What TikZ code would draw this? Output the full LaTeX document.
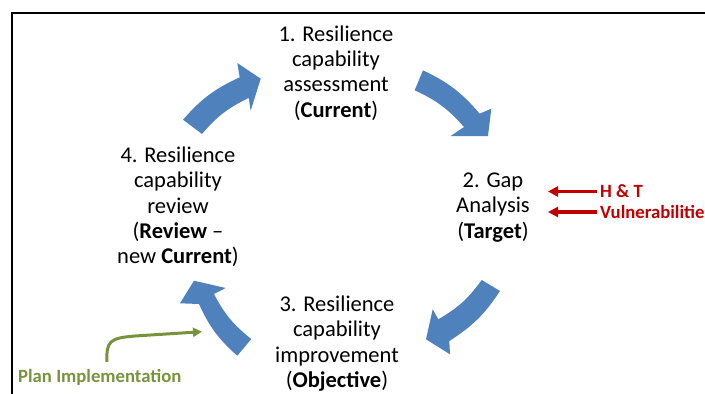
\documentclass[tikz,border=0pt]{standalone}
\usepackage{fontspec}
\setmainfont{Carlito}
\usetikzlibrary{arrows.meta}
\definecolor{cycleblue}{HTML}{4F81BD}
\definecolor{hazardred}{HTML}{C00000}
\definecolor{plangreen}{HTML}{77933C}
\begin{document}
\begin{tikzpicture}[x=1pt,y=-1pt,
  stage/.style={align=center, inner sep=0pt, font=\fontsize{22.5}{25.3}\selectfont},
  cyclearrow/.style={fill=cycleblue, draw=none},
  sidelabel/.style={anchor=west, inner sep=0pt, font=\fontsize{18.7}{22}\selectfont\bfseries},
  hazardarrow/.style={draw=hazardred, line width=3.2pt, -{Triangle[length=10pt,width=10pt]}},
  planarrow/.style={draw=plangreen, line width=3pt, -{Triangle[length=9pt,width=9pt]}},
  frameline/.style={line width=2pt, black}]
\useasboundingbox (0,0) rectangle (705,394);
\clip (0,0) rectangle (705,394);

% frame
\draw[frameline] (12,394) -- (12,12.5) -- (705,12.5);

% the four stages of the cycle
\node[stage] (assess) at (336,73) {1. Resilience\\capability\\assessment\\(\textbf{Current})};
\node[stage] (gap) at (493,207.5) {2. Gap\\Analysis\\(\textbf{Target})};
\node[stage] (improve) at (337,343.5) {3. Resilience\\capability\\improvement\\(\textbf{Objective})};
\node[stage] (review) at (178,207) {4. Resilience\\capability\\review\\(\textbf{Review} --\\new \textbf{Current})};

% curved block arrows between the stages
\fill[cyclearrow] (183,119.7) to[bend left=12] (239.7,77.3) -- (237.3,63) -- (260.7,78.7)
  -- (250.7,110.7) -- (248.7,98) to[bend right=12] (202,134) -- cycle;
\fill[cyclearrow] (423,70.3) to[bend left=12] (479.7,113.7) -- (491.3,108.7) -- (488,136)
  -- (450.7,136) -- (464,127) to[bend right=12] (414.7,90.3) -- cycle;
\fill[cyclearrow] (500,291) to[bend left=12] (449.3,341) -- (450,354.3) -- (426,339.3)
  -- (432.7,309.3) -- (438.3,319.3) to[bend right=12] (481.7,280) -- cycle;
\fill[cyclearrow] (237.3,355.7) to[bend left=12] (199,304) -- (180,303.3) -- (194,280.7)
  -- (225.7,288) -- (214,294) to[bend right=12] (251.3,339) -- cycle;

% inputs to the gap analysis
\node[sidelabel, text=hazardred] (ht) at (600,191.5) {H \& T};
\node[sidelabel, text=hazardred] (vuln) at (600,212) {Vulnerabilitie};
\coordinate (gapin) at (548,0);
\draw[hazardarrow] ([xshift=-3pt]ht.west) -- (ht.west -| gapin);
\draw[hazardarrow] ([xshift=-3pt]vuln.west) -- (vuln.west -| gapin);

% plan implementation feeding the review arrow
\node[sidelabel, text=plangreen] (plan) at (18,377) {Plan Implementation};
\coordinate (planstart) at (107,362);
\coordinate (plantip) at (202,331.7);
\draw[planarrow] (planstart) .. controls (106,341) and (110,338) .. (135,336) -- (plantip);
\end{tikzpicture}
\end{document}
